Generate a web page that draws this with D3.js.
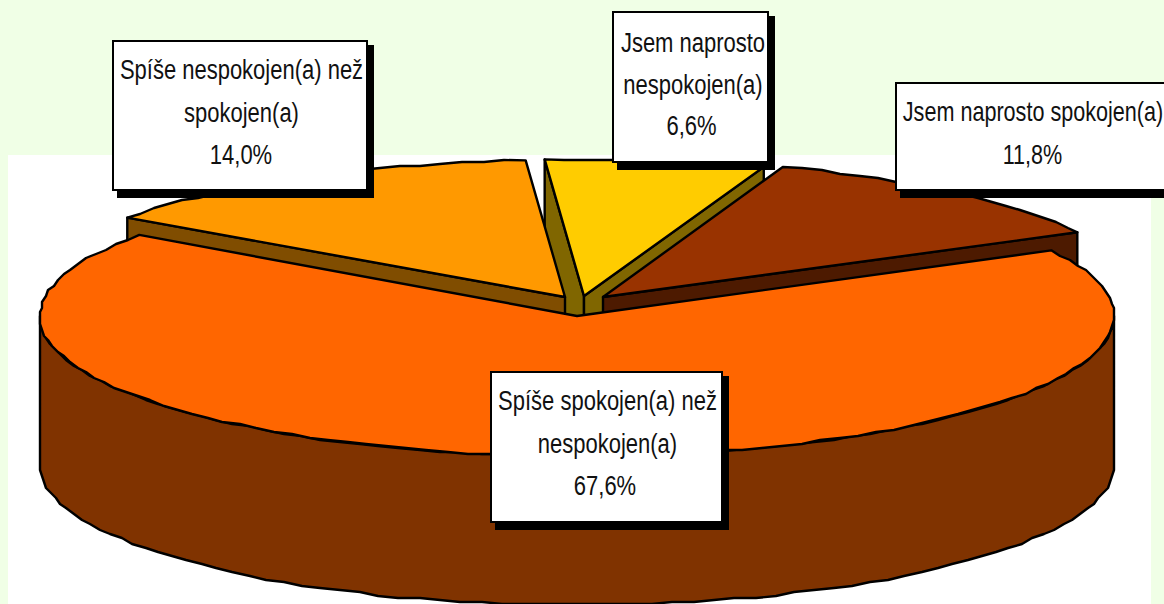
<!DOCTYPE html>
<html><head><meta charset="utf-8">
<script src="https://cdnjs.cloudflare.com/ajax/libs/d3/7.8.5/d3.min.js"></script>
<style>html,body{margin:0;padding:0;background:#F0FFE6;overflow:hidden}svg{display:block}</style>
</head><body><svg id="c" width="1164" height="604"></svg>
<script>
// Data, clockwise from the pie's start angle
const categories = ["Jsem naprosto nespokojen(a)", "Jsem naprosto spokojen(a)", "Spíše spokojen(a) než nespokojen(a)", "Spíše nespokojen(a) než spokojen(a)"];
const values = [6.6, 11.8, 67.6, 14.0];
const valueLabels = ["6,6%", "11,8%", "67,6%", "14,0%"];
const labelLines = [["Jsem naprosto", "nespokojen(a)"], ["Jsem naprosto spokojen(a)"], ["Spíše spokojen(a) než", "nespokojen(a)"], ["Spíše nespokojen(a) než", "spokojen(a)"]];

// Styling and layout
const topColors  = ["#FFCC00", "#993300", "#FF6600", "#FF9900"];
const wallColors = ["#806600", "#4D1A00", "#803300", "#804D00"];
const explode = [[7, -20], [26, -19], [0, 0], [-12, -19]];
const radiiY = [137, 138, 140, 137];
const drawOrder = [0, 3, 1, 2];
const boxes = [[613, 12, 155, 150], [896, 83, 275, 107], [491, 372, 231, 150], [113, 41, 254, 149]];
const firstBaseline = [40, 38, 38, 38];
const lineGaps = [41.5, 43, 42.5, 42.5];
const textOffsets = [2.5, -0.5, 1, 1.5];
const valueOffsets = [-1.5, -0.5, -2.5, -0.5];
const textSquash = [0.815, 0.80, 0.815, 0.815];
const fontSize = 27;
const cx = 577, cy = 316, rx = 537, depth = 149, grid = 2;
const startDeg = -4.2;

const svg = d3.select("#c");
svg.append("rect").attr("x", 8).attr("y", 155).attr("width", 1143).attr("height", 449).attr("fill", "#fff");

const pie = d3.pie().sort(null).startAngle(startDeg * Math.PI / 180).endAngle((startDeg + 360) * Math.PI / 180);
const arcs = pie(values);
const line = d3.line();
const q = v => Math.round(v / grid) * grid;
const exact = (i, a, dz) => [cx + explode[i][0] + rx * Math.sin(a), cy + explode[i][1] - radiiY[i] * Math.cos(a) + dz];
const apex = (i, dz) => [cx + explode[i][0], cy + explode[i][1] + dz];
const rim = (i, a0, a1, dz) => {
  const n = Math.max(2, Math.ceil((a1 - a0) / 0.04));
  return d3.range(n + 1).map(k => {
    const a = a0 + (a1 - a0) * k / n;
    const p = exact(i, a, dz);
    return (k === 0 || k === n) ? p : [q(p[0]), q(p[1])];
  });
};
const closed = pts => line(pts) + "Z";
const shape = (d, fill) => svg.append("path").attr("d", d).attr("fill", fill)
  .attr("stroke", "#000").attr("stroke-width", 2.4).attr("stroke-linejoin", "round");

drawOrder.forEach(i => {
  const { startAngle: s, endAngle: e } = arcs[i];
  // Cut faces that face the viewer
  if (Math.sin(s) < 0) shape(closed([exact(i, s, 0), apex(i, 0), apex(i, depth), exact(i, s, depth)]), wallColors[i]);
  if (Math.sin(e) > 0) shape(closed([exact(i, e, 0), apex(i, 0), apex(i, depth), exact(i, e, depth)]), wallColors[i]);
  // Front rim wall (the half of the ellipse nearest the viewer)
  const f0 = Math.max(s, Math.PI / 2), f1 = Math.min(e, 3 * Math.PI / 2);
  if (f1 > f0) shape(closed([...rim(i, f0, f1, 0), ...rim(i, f0, f1, depth).reverse()]), wallColors[i]);
  // Top face
  shape(closed([apex(i, 0), ...rim(i, s, e, 0)]), topColors[i]);
});

// Data labels
categories.forEach((c, i) => {
  const [x, y, w, h] = boxes[i];
  const g = svg.append("g").attr("class", "label").attr("data-category", c);
  g.append("rect").attr("x", x + 4).attr("y", y + 4).attr("width", w + 3).attr("height", h + 4).attr("fill", "#000");
  g.append("rect").attr("x", x).attr("y", y).attr("width", w).attr("height", h).attr("fill", "#fff").attr("stroke", "#000").attr("stroke-width", 2);
  const tx = x + w / 2 + textOffsets[i];
  const lines = [...labelLines[i], valueLabels[i]];
  lines.forEach((t, k) => {
    const by = y + firstBaseline[i] + k * lineGaps[i];
    const lx = tx + (k === lines.length - 1 ? valueOffsets[i] : 0);
    g.append("text").attr("transform", `translate(${lx},${by}) scale(${textSquash[i]},1)`)
      .attr("text-anchor", "middle").attr("font-family", "'Liberation Sans',Arial,sans-serif")
      .attr("font-size", fontSize).attr("fill", "#111").text(t);
  });
});
</script></body></html>
